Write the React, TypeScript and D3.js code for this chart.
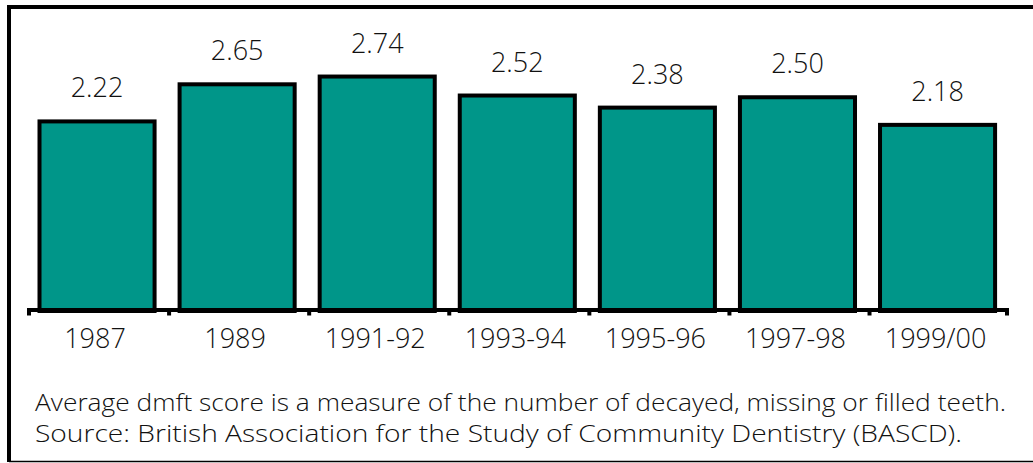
import React from "react";
import * as d3 from "d3";

const categories = ["1987", "1989", "1991-92", "1993-94", "1995-96", "1997-98", "1999/00"];
const values = [2.22, 2.65, 2.74, 2.52, 2.38, 2.5, 2.18];
const valueLabels = ["2.22", "2.65", "2.74", "2.52", "2.38", "2.50", "2.18"];
const notes = [
  "Average dmft score is a measure of the number of decayed, missing or filled teeth.",
  "Source: British Association for the Study of Community Dentistry (BASCD).",
];
const noteWidths = [971, 927];

const W = 1033;
const H = 463;
const FONT = "'Open Sans', sans-serif";

export default function App() {
  const x = d3
    .scaleBand<string>()
    .domain(categories)
    .range([27, 1007.6])
    .paddingInner(0.15)
    .paddingOuter(0.075);
  const y = d3.scaleLinear().domain([0, 3]).range([311, 52.1]);
  const step = x.step();
  const x0 = 27;
  const sw = 4;

  return (
    <svg
      width={W}
      height={H}
      style={{ position: "absolute", left: 0, top: 0, background: "#fff" }}
    >
      {/* frame */}
      <line x1={7} y1={7} x2={W} y2={7} stroke="#000" strokeWidth={4} />
      <line x1={9} y1={5} x2={9} y2={462} stroke="#000" strokeWidth={4} />
      <line x1={9} y1={461.5} x2={W} y2={461.5} stroke="#000" strokeWidth={1.5} />

      {/* bars */}
      {values.map((v, i) => {
        const bx = x(categories[i])!;
        const bw = x.bandwidth();
        const top = y(v);
        return (
          <g key={i}>
            <rect
              x={bx + sw / 2}
              y={top + sw / 2}
              width={bw - sw}
              height={y(0) - top - sw / 2}
              fill="#009689"
              stroke="#000"
              strokeWidth={sw}
            />
            <text
              x={bx + bw / 2}
              y={top - 22}
              textAnchor="middle"
              fontFamily={FONT}
              fontWeight={300}
              fontSize={27}
              fill="#111"
            >
              {valueLabels[i]}
            </text>
            <text
              x={bx + bw / 2 - 2}
              y={348}
              textAnchor="middle"
              fontFamily={FONT}
              fontWeight={300}
              fontSize={27}
              fill="#111"
            >
              {categories[i]}
            </text>
          </g>
        );
      })}

      {/* axis */}
      <line x1={27} y1={310} x2={1009} y2={310} stroke="#000" strokeWidth={4} />
      {d3.range(categories.length + 1).map((i) => {
        const tx = Math.min(x0 + i * step + 2, 1007);
        return (
          <line key={i} x1={tx} y1={310} x2={tx} y2={315.5} stroke="#000" strokeWidth={4} />
        );
      })}

      {/* notes */}
      {notes.map((t, i) => (
        <text
          key={i}
          x={35}
          y={411 + i * 31}
          fontFamily={FONT}
          fontWeight={300}
          fontSize={24}
          fill="#111"
          textLength={noteWidths[i]}
          lengthAdjust="spacingAndGlyphs"
        >
          {t}
        </text>
      ))}
    </svg>
  );
}
